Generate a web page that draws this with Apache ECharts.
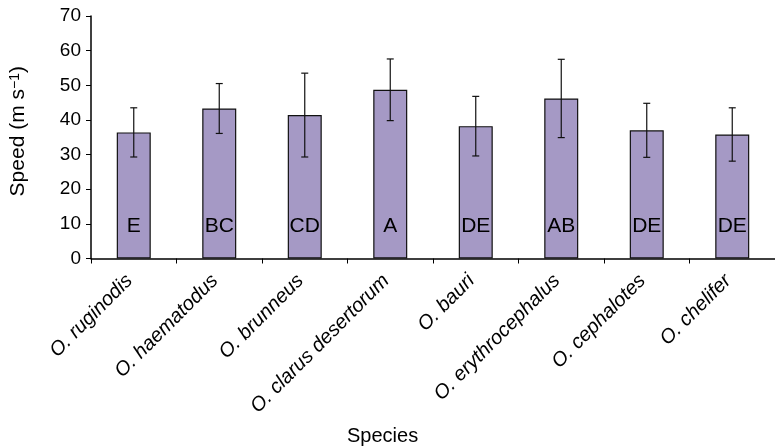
<!DOCTYPE html>
<html><head><meta charset="utf-8">
<script src="https://cdn.jsdelivr.net/npm/echarts@6/dist/echarts.min.js"></script>
<style>html,body{margin:0;padding:0;background:#fff}#c{width:775px;height:446px}</style>
</head><body><div id="c"></div>
<script>
const species = ['O. ruginodis','O. haematodus','O. brunneus','O. clarus desertorum','O. bauri','O. erythrocephalus','O. cephalotes','O. chelifer'];
const speedMean = [36.4, 43.3, 41.4, 48.7, 38.2, 46.2, 37.0, 35.8];
const speedSD = [7.1, 7.2, 12.1, 8.9, 8.6, 11.3, 7.8, 7.7];
const groupLetters = ['E','BC','CD','A','DE','AB','DE','DE'];
const yMin = 0, yMax = 70, yStep = 10;

const FONT = '"Liberation Sans", Arial, Helvetica, sans-serif';
const chart = echarts.init(document.getElementById('c'), null, {renderer:'canvas'});
const errData = speedMean.map((m, i) => [i, m, speedSD[i]]);

chart.setOption({
  animation: false,
  backgroundColor: '#fff',
  textStyle: {fontFamily: FONT},
  title: {
    text: 'Species', left: 342, top: 421,
    textStyle: {fontFamily: FONT, fontSize: 20, fontWeight: 'normal', color: '#000'}
  },
  grid: {left: 91, right: -2, top: 16, bottom: 187.5, containLabel: false},
  xAxis: {
    type: 'category', data: species, boundaryGap: true,
    axisLine: {show: true, lineStyle: {color: '#000', width: 1.5}},
    axisTick: {show: true, alignWithLabel: false, length: 5, lineStyle: {color: '#000', width: 1}},
    axisLabel: {interval: 0, rotate: 45, margin: 15, padding: [0, 6, 0, 0], fontSize: 20, fontStyle: 'italic', color: '#000', fontFamily: FONT}
  },
  yAxis: {
    type: 'value', min: yMin, max: yMax, interval: yStep,
    name: 'Speed (m s{sup|−1})', nameLocation: 'middle', nameGap: 62,
    nameTextStyle: {fontSize: 21, color: '#000', fontFamily: FONT, padding: [0, 0, 0, 12],
      rich: {sup: {fontSize: 14, verticalAlign: 'top', color: '#000', fontFamily: FONT}}},
    axisLine: {show: true, lineStyle: {color: '#000', width: 1.5}},
    axisTick: {show: true, length: 5, lineStyle: {color: '#000', width: 1}},
    axisLabel: {fontSize: 19, color: '#000', margin: 10, fontFamily: FONT},
    splitLine: {show: false}
  },
  series: [
    {
      type: 'bar', data: speedMean, barWidth: 34,
      itemStyle: {color: '#A599C5', borderColor: '#111', borderWidth: 1.2},
      label: {
        show: true, position: 'insideBottom', distance: 22,
        fontSize: 21, color: '#000', fontFamily: FONT,
        formatter: p => groupLetters[p.dataIndex]
      },
      z: 2
    },
    {
      type: 'custom', data: errData, z: 5,
      renderItem: function (params, api) {
        const i = api.value(0), m = api.value(1), sd = api.value(2);
        const top = api.coord([i, m + sd]);
        const bot = api.coord([i, m - sd]);
        const hw = 3.5;
        const st = {stroke: '#111', lineWidth: 1.2};
        return {type: 'group', children: [
          {type: 'line', shape: {x1: top[0], y1: top[1], x2: bot[0], y2: bot[1]}, style: st},
          {type: 'line', shape: {x1: top[0]-hw, y1: top[1], x2: top[0]+hw, y2: top[1]}, style: st},
          {type: 'line', shape: {x1: bot[0]-hw, y1: bot[1], x2: bot[0]+hw, y2: bot[1]}, style: st}
        ]};
      }
    }
  ]
});
</script></body></html>
